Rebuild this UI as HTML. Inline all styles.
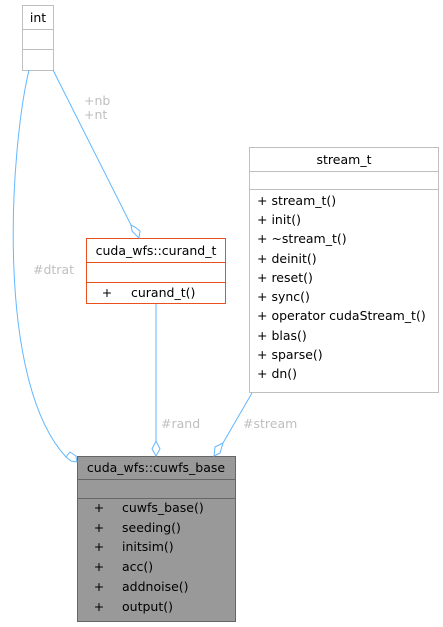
<!DOCTYPE html>
<html><head><meta charset="utf-8"><style>html,body{margin:0;padding:0;background:#fff}svg{display:block}</style></head>
<body>
<svg width="443" height="627" viewBox="0 0 443 627" xmlns="http://www.w3.org/2000/svg" font-family="'DejaVu Sans','Liberation Sans',sans-serif" font-size="12.5">
<!-- int -->
<g fill="#fff" stroke="#bfbfbf">
<rect x="22.5" y="5.5" width="31" height="65"/>
<line x1="22.5" y1="29.5" x2="53.5" y2="29.5"/>
<line x1="22.5" y1="49.5" x2="53.5" y2="49.5"/>
</g>
<text x="38" y="22" text-anchor="middle" fill="#000">int</text>
<!-- stream_t -->
<g fill="#fff" stroke="#bfbfbf">
<rect x="249.5" y="147.5" width="189" height="245"/>
<line x1="249.5" y1="171.5" x2="438.5" y2="171.5"/>
<line x1="249.5" y1="189.5" x2="438.5" y2="189.5"/>
</g>
<g fill="#000">
<text x="344" y="164" text-anchor="middle">stream_t</text>
<text x="257" y="205">+ stream_t()</text>
<text x="257" y="224">+ init()</text>
<text x="257" y="243">+ ~stream_t()</text>
<text x="257" y="263">+ deinit()</text>
<text x="257" y="282">+ reset()</text>
<text x="257" y="301">+ sync()</text>
<text x="257" y="320">+ operator cudaStream_t()</text>
<text x="257" y="340">+ blas()</text>
<text x="257" y="359">+ sparse()</text>
<text x="257" y="378">+ dn()</text>
</g>
<!-- curand_t -->
<g fill="#fff" stroke="#e8501e">
<rect x="86.5" y="238.5" width="139" height="65"/>
<line x1="86.5" y1="262.5" x2="225.5" y2="262.5"/>
<line x1="86.5" y1="282.5" x2="225.5" y2="282.5"/>
</g>
<text x="156" y="255" text-anchor="middle" fill="#000">cuda_wfs::curand_t</text>
<text x="107" y="297" text-anchor="middle" fill="#000">+</text>
<text x="131" y="297" fill="#000">curand_t()</text>
<!-- cuwfs_base -->
<g fill="#999" stroke="#666">
<rect x="77.5" y="456.5" width="158" height="165"/>
<line x1="77.5" y1="479.5" x2="235.5" y2="479.5"/>
<line x1="77.5" y1="498.5" x2="235.5" y2="498.5"/>
</g>
<g fill="#000">
<text x="156" y="472" text-anchor="middle">cuda_wfs::cuwfs_base</text>
<text x="99" y="512" text-anchor="middle">+</text><text x="122" y="512">cuwfs_base()</text>
<text x="99" y="532" text-anchor="middle">+</text><text x="122" y="532">seeding()</text>
<text x="99" y="551" text-anchor="middle">+</text><text x="122" y="551">initsim()</text>
<text x="99" y="571" text-anchor="middle">+</text><text x="122" y="571">acc()</text>
<text x="99" y="591" text-anchor="middle">+</text><text x="122" y="591">addnoise()</text>
<text x="99" y="611" text-anchor="middle">+</text><text x="122" y="611">output()</text>
</g>
<!-- edges -->
<g fill="none" stroke="#63b8ff" stroke-width="1">
<path d="M29,70 C10,150 -5,380 66,457"/>
<path d="M66,457 L71,461 L77,462 L76,456 L70,452 Z" fill="#fff"/>
<path d="M53,70 L131,225"/>
<path d="M131,225 L132,231 L139,238 L140,231 L135,227 Z" fill="#fff"/>
<path d="M156,304 L156,441"/>
<path d="M156,441 L152,449 L156,456 L160,449 Z" fill="#fff"/>
<path d="M252,393 L223,443"/>
<path d="M223,443 L215,447 L214,456 L220,453 Z" fill="#fff"/>
</g>
<g fill="#bfbfbf">
<text x="84" y="105">+nb</text>
<text x="84" y="119">+nt</text>
<text x="33" y="274">#dtrat</text>
<text x="161" y="428">#rand</text>
<text x="243" y="428">#stream</text>
</g>
</svg>
</body></html>
